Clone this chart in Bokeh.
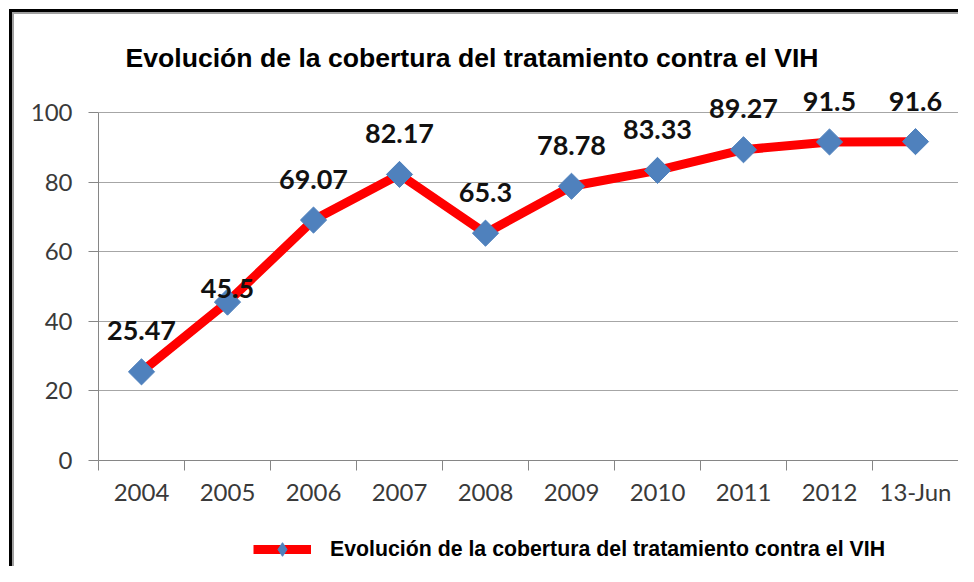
from bokeh.plotting import figure
from bokeh.layouts import column
from bokeh.models import FixedTicker, Legend, LegendItem, Title, Range1d, ColumnDataSource
from bokeh.core.properties import value
from bokeh.embed import file_html
from bokeh.resources import INLINE
import math

# ---- data ----
categories = ["2004", "2005", "2006", "2007", "2008", "2009", "2010", "2011", "2012", "13-Jun"]
coverage = [25.47, 45.5, 69.07, 82.17, 65.3, 78.78, 83.33, 89.27, 91.5, 91.6]
value_labels = ["25.47", "45.5", "69.07", "82.17", "65.3", "78.78", "83.33", "89.27", "91.5", "91.6"]
y_ticks = [0, 20, 40, 60, 80, 100]
series_name = "Evolución de la cobertura del tratamiento contra el VIH"
title_text = "Evolución de la cobertura del tratamiento contra el VIH"

# label vertical offsets (screen px, style only)
label_dy = [-41, -14, -41, -41, -41, -41, -41, -41, -40, -40]

idx = list(range(len(categories)))
src = ColumnDataSource(dict(x=idx, y=coverage, t=value_labels, dy=label_dy))

RED = "#ff0000"
BLUE = "#4f81bd"
axis_gray = "#868686"
tick_font = "Lato"

# y range reaches a little above 100 so that the top value labels are not clipped
p = figure(width=958, height=516, output_backend="svg", toolbar_location=None,
           x_range=Range1d(-0.5, len(categories) - 0.5), y_range=Range1d(0, 106),
           min_border_left=98, min_border_right=0, min_border_top=91, min_border_bottom=56,
           title=None)
p.outline_line_color = None
p.background_fill_color = "white"
p.border_fill_color = None

# x axis: labels at category centers, ticks at category boundaries
p.xaxis.ticker = FixedTicker(ticks=idx, minor_ticks=[i - 0.5 for i in range(len(categories) + 1)])
p.xaxis.major_label_overrides = {i: c for i, c in zip(idx, categories)}
p.xaxis.major_tick_out = 0
p.xaxis.major_tick_in = 0
p.xaxis.minor_tick_out = 10
p.xaxis.minor_tick_in = 0
p.xaxis.minor_tick_line_color = axis_gray
p.xaxis.axis_line_color = axis_gray
p.xaxis.major_label_text_font = tick_font
p.xaxis.major_label_text_font_size = "24px"
p.xaxis.major_label_text_color = "#3a3a3a"
p.xaxis.major_label_standoff = 6

p.yaxis.ticker = FixedTicker(ticks=y_ticks)
p.yaxis.bounds = (y_ticks[0], y_ticks[-1])
p.yaxis.major_tick_out = 10
p.yaxis.major_tick_in = 0
p.yaxis.minor_tick_line_color = None
p.yaxis.major_tick_line_color = axis_gray
p.yaxis.axis_line_color = axis_gray
p.yaxis.major_label_text_font = tick_font
p.yaxis.major_label_text_font_size = "24px"
p.yaxis.major_label_text_color = "#3a3a3a"
p.yaxis.major_label_standoff = 16

p.xgrid.visible = False
p.ygrid.ticker = FixedTicker(ticks=y_ticks)
p.ygrid.grid_line_color = "#a6a6a6"

p.line("x", "y", source=src, line_color=RED, line_width=9)
p.scatter("x", "y", source=src, marker="square", angle=math.pi / 4, size=18.5,
          fill_color=BLUE, line_color=BLUE)

p.text("x", "y", text="t", y_offset="dy", source=src, text_align="center", text_baseline="middle",
       text_font=value("Lato"), text_font_style="bold", text_font_size="27px", text_color="#111111")

title = Title(text=title_text, align="left", offset=27, standoff=37,
              text_font="Liberation Sans", text_font_size="26.6px", text_font_style="bold",
              text_color="#000000")
p.add_layout(title, "above")

# ---- legend strip below the chart (its own renderers are kept outside its view) ----
lf = figure(width=958, height=50, output_backend="svg", toolbar_location=None,
            x_range=Range1d(-100, -99), y_range=Range1d(-100, -99),
            x_axis_type=None, y_axis_type=None, min_border=0, title=None)
lf.outline_line_color = None
lf.background_fill_color = None
lf.border_fill_color = None
lf.grid.visible = False
leg_line = lf.line("x", "y", source=src, line_color=RED, line_width=9)
leg_mark = lf.scatter("x", "y", source=src, marker="diamond", size=18,
                      fill_color=BLUE, line_color=BLUE)

legend = Legend(items=[LegendItem(label=series_name, renderers=[leg_line, leg_mark])],
                location=(155, 0), padding=0, margin=0, spacing=0,
                glyph_width=58, glyph_height=34, label_standoff=19,
                label_text_font="Liberation Sans", label_text_font_style="bold",
                label_text_font_size="21.3px", label_text_color="#000000",
                border_line_color=None, background_fill_alpha=0)
lf.add_layout(legend, "center")

layout = column(p, lf, spacing=0)
layout.styles = {"box-shadow": "inset 9px 9px 0 0 #fff, inset 12px 12px 0 0 #000, inset 14px 14px 0 0 #a0a0a0",
                 "background": "white"}

open("out.html", "w").write(file_html(layout, INLINE))
